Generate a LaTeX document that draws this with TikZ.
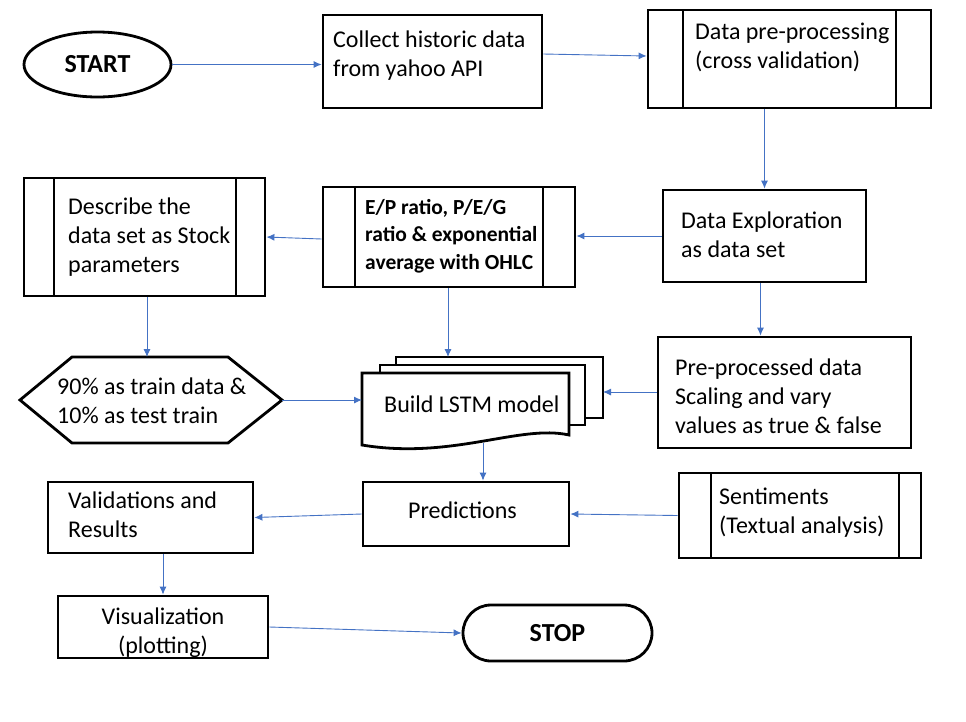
\documentclass[tikz,border=0pt]{standalone}
\usepackage{fontspec}
\setmainfont{Carlito}
\usetikzlibrary{arrows.meta,shapes.geometric,shapes.misc}
\definecolor{flowblue}{RGB}{68,114,196}

\tikzset{
  box/.style={draw, line width=2.8pt, fill=white, inner sep=0pt},
  bar/.style={line width=1.8pt},
  page/.style={draw, line width=2.8pt, fill=white},
  txt/.style={anchor=west, align=left, inner sep=0pt, font=\fontsize{24}{29}\selectfont},
  flow/.style={draw=flowblue, line width=0.9pt, -{Latex[length=8pt,width=7pt]}},
}

\begin{document}
\begin{tikzpicture}[x=1pt,y=-1pt]
  \useasboundingbox (0,0) rectangle (966,721);

  % first row
  \node[box, ellipse, minimum width=147pt, minimum height=65pt,
        font=\fontsize{26}{29}\selectfont\bfseries] (start) at (97.5,64.5) {START};
  \node[box, minimum width=219pt, minimum height=93pt] (collect) at (432.5,61.5) {};
  \node[txt] (collect-t) at (333,56) {Collect historic data\\from yahoo API};
  \node[box, minimum width=283pt, minimum height=98pt] (datapre) at (789.5,59) {};
  \draw[bar] (683,10) -- (683,108);
  \draw[bar] (896,10) -- (896,108);
  \node[txt] (datapre-t) at (695,47) {Data pre-processing\\(cross validation)};

  % second row
  \node[box, minimum width=241pt, minimum height=118pt] (describe) at (144.5,237) {};
  \draw[bar] (54,178) -- (54,296);
  \draw[bar] (236,178) -- (236,296);
  \node[txt] (describe-t) at (68,237) {Describe the\\data set as Stock\\parameters};
  \node[box, minimum width=252pt, minimum height=100pt] (ep) at (449,237) {};
  \draw[bar] (355,187) -- (355,287);
  \draw[bar] (543,187) -- (543,287);
  \node[txt, font=\fontsize{21.5}{27.5}\selectfont\bfseries] (ep-t) at (365,236)
       {E/P ratio, P/E/G\\ratio \& exponential\\average with OHLC};
  \node[box, minimum width=203pt, minimum height=92pt] (explore) at (764.5,236) {};
  \node[txt] (explore-t) at (681,235) {Data Exploration\\as data set};

  % third row
  \draw[page] (20,400) -- (72,357) -- (228,357) -- (282,400) -- (228,443) -- (72,443) -- cycle;
  \coordinate (split-n) at (147,357);
  \coordinate (split-e) at (282,400);
  \node[txt] (split) at (57,401) {90\% as train data \&\\10\% as test train};
  \draw[page] (396,357) rectangle (603,418);
  \draw[page] (380,365) rectangle (585,425);
  \draw[page] (362,373) -- (569,373) -- (569,435)
        .. controls (520,424) and (452,460) .. (362,445) -- cycle;
  \node[txt] (build) at (384,404) {Build LSTM model};
  \coordinate (build-w) at (362,400);
  \coordinate (build-n) at (448,357);
  \coordinate (build-e) at (603,392);
  \coordinate (build-s) at (483,443);
  \node[box, minimum width=253pt, minimum height=111pt] (preproc) at (784.5,392.5) {};
  \node[txt] (preproc-t) at (675,396) {Pre-processed data\\Scaling and vary\\values as true \& false};

  % fourth row
  \node[box, minimum width=205pt, minimum height=71pt] (valid) at (150.5,517.5) {};
  \node[txt] (valid-t) at (68,515) {Validations and\\Results};
  \node[box, minimum width=206pt, minimum height=64pt] (predict) at (466,514) {};
  \node[txt] (predict-t) at (408,510) {Predictions};
  \node[box, minimum width=242pt, minimum height=85pt] (senti) at (800,515.5) {};
  \draw[bar] (711,473) -- (711,558);
  \draw[bar] (899,473) -- (899,558);
  \node[txt] (senti-t) at (719,513) {Sentiments\\(Textual analysis)};

  % last row
  \node[box, minimum width=210pt, minimum height=62pt] (visual) at (163,627) {};
  \node[txt, anchor=center, align=center] (visual-t) at (163,632.5) {Visualization\\(plotting)};
  \node[box, rounded rectangle, minimum width=189pt, minimum height=56pt,
        font=\fontsize{26}{29}\selectfont\bfseries] (stop) at (557.5,633) {STOP};

  % connectors
  \draw[flow] (start.east) -- (start.east -| collect.west);
  \draw[flow] ([yshift=7.5pt]collect.east) -- ([yshift=3pt]datapre.west);
  \draw[flow] (datapre.south -| explore.north) -- (explore.north);
  \draw[flow] (explore.west) -- (explore.west -| ep.east);
  \draw[flow] ([yshift=-2pt]ep.west) -- (describe.east);
  \draw[flow] (describe.south -| split-n) -- (split-n);
  \draw[flow] (split-e) -- (build-w);
  \draw[flow] (ep.south -| build-n) -- (build-n);
  \draw[flow] (preproc.west |- build-e) -- (build-e);
  \draw[flow] ([xshift=-4pt]explore.south) -- ([xshift=-4pt]explore.south |- preproc.north);
  \draw[flow] (build-s) -- (build-s |- predict.north);
  \draw[flow] (senti.west) -- (predict.east);
  \draw[flow] (predict.west) -- (valid.east);
  \draw[flow] (visual.north |- valid.south) -- (visual.north);
  \draw[flow] (visual.east) -- (stop.west);
\end{tikzpicture}
\end{document}
